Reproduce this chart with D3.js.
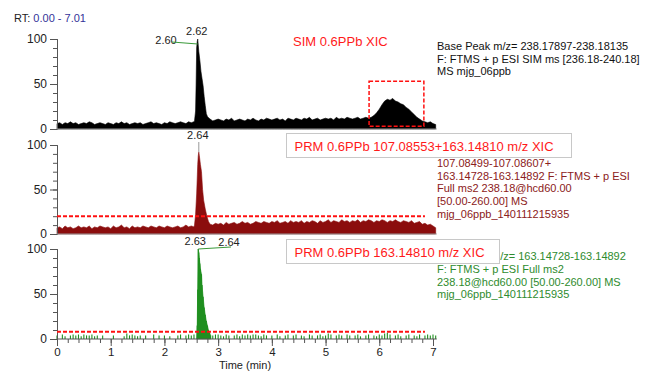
<!DOCTYPE html>
<html>
<head>
<meta charset="utf-8">
<title>XIC chromatograms</title>
<script src="https://d3js.org/d3.v7.min.js"></script>
<style>
  body { margin: 0; background: #fff; }
  text { font-family: "Liberation Sans", Arial, sans-serif; }
</style>
</head>
<body>
<div id="chart"></div>
<script>
// retention time grid step (min) of the baseline arrays
const step = 0.05;

// SIM 0.6PPb XIC, relative abundance, t = 0.00 .. 7.05
const simBase = [
  6,7,5,7,6,8,6,7,5,6, 7,6,8,7,5,6,7,6,5,7,
  6,5,7,6,8,6,7,5,6,7, 6,7,5,6,7,8,6,7,6,5,
  7,6,8,7,6,7,8,7,6,8, 7,8,9,10,12,11,10,11,9,10,
  11,10,9,11,10,12,9,10,11,10, 9,11,10,12,10,9,11,10,12,11,
  10,11,12,10,11,9,12,11,10,12, 11,10,12,11,13,10,11,12,10,11,
  12,11,12,10,13,11,12,11,13,12, 11,12,13,11,12,13,12,13,15,18,
  22,27,31,33,32,34,31,30,28,27, 24,22,19,16,13,11,9,8,7,8,
  6,5
];
const simPeakT = [2.56,2.58,2.59,2.60,2.61,2.62,2.63,2.64,2.66,2.68,2.70,2.72,2.74,2.76,2.78,2.80,2.83];
const simPeakV = [9,20,50,90,97,100,93,86,76,64,56,48,36,26,17,14,12];

// PRM 107.08553+163.14810 m/z XIC
const prm1Base = [
  7,8,6,9,7,8,6,7,9,7, 8,7,9,6,8,7,9,8,7,8,
  6,9,7,8,10,7,8,6,9,7, 8,7,9,8,7,9,8,7,9,8,
  7,9,8,7,8,9,7,8,10,8, 9,8,10,12,11,12,11,13,10,12,
  11,12,10,13,11,12,13,11,12,14, 12,13,11,12,14,13,12,14,13,12,
  14,13,15,12,13,14,12,15,13,14, 13,15,12,14,13,15,14,12,15,13,
  14,16,13,15,14,13,16,14,15,13, 15,14,16,13,15,14,16,15,13,15,
  14,16,15,13,15,14,16,14,13,15, 14,13,15,12,13,14,11,12,10,11,
  9,7
];
const prm1PeakT = [2.56,2.58,2.60,2.62,2.63,2.64,2.65,2.67,2.69,2.71,2.73,2.76,2.79,2.82,2.85];
const prm1PeakV = [10,22,45,78,88,92,88,78,70,50,38,28,20,14,11];

// PRM 163.14810 m/z XIC
const prm2Base = [
  4,0,5,3,0,4,5,4,5,3, 5,4,4,5,3,4,0,4,0,0,
  0,4,0,0,0,3,6,4,5,4, 3,4,0,4,0,0,5,0,4,0,
  4,0,3,0,0,4,5,0,4,5, 4,5,5,6,7,6,5,6,4,5,
  5,4,3,5,4,0,4,5,3,5, 4,5,4,5,5,4,3,5,4,0,
  4,0,5,3,0,4,5,0,4,5, 0,4,3,0,5,4,0,4,5,3,
  4,6,5,0,4,5,4,0,5,4, 0,4,5,3,0,4,5,0,4,3,
  5,4,6,7,5,0,4,5,3,0, 4,5,0,4,3,5,0,4,5,4,
  5,4
];
const prm2PeakT = [2.60,2.61,2.62,2.63,2.64,2.65,2.66,2.67,2.69,2.70,2.72,2.74,2.76,2.78,2.80,2.82,2.84,2.86];
const prm2PeakV = [0,15,55,100,96,90,84,78,72,60,47,35,27,20,15,10,7,4];

const xTicks = [0,1,2,3,4,5,6,7];
const yTicks = [0,50,100];

const W = 648, H = 372;
const svg = d3.select("#chart").append("svg")
  .attr("width", W).attr("height", H);

const x = d3.scaleLinear().domain([0, 7]).range([57, 433]);
const xEnd = x(7.07);

function merge(base, pt, pv) {
  let lo = pt[0], hi = pt[pt.length - 1];
  let pts = base.map((v, i) => [i * step, v]).filter(d => d[0] < lo || d[0] > hi);
  pt.forEach((t, i) => pts.push([t, pv[i]]));
  return pts.sort((a, b) => a[0] - b[0]);
}

const panels = [
  {top: 39, bottom: 129, data: merge(simBase, simPeakT, simPeakV), color: "#000", kind: "area"},
  {top: 145, bottom: 234, data: merge(prm1Base, prm1PeakT, prm1PeakV), color: "#8b0d0d", kind: "area"},
  {top: 249, bottom: 339, data: merge(prm2Base, prm2PeakT, prm2PeakV), color: "#1f8f1f", kind: "stick"}
];

panels.forEach((p, k) => {
  p.y = d3.scaleLinear().domain([0, 100]).range([p.bottom, p.top]);
  const g = svg.append("g");
  const area = d3.area().x(d => x(d[0])).y0(p.bottom).y1(d => p.y(d[1]));

  if (p.kind === "area") {
    g.append("path")
      .datum(p.data)
      .attr("fill", p.color)
      .attr("stroke", p.color)
      .attr("stroke-width", 0.6)
      .attr("d", area);
  } else {
    g.selectAll("line.stk")
      .data(p.data.filter(d => d[1] > 0))
      .join("line")
      .attr("x1", d => x(d[0])).attr("x2", d => x(d[0]))
      .attr("y1", p.bottom).attr("y2", d => p.y(d[1]))
      .attr("stroke", p.color).attr("stroke-width", 1.1);
    g.append("path")
      .datum(p.data.filter(d => d[0] >= 2.6 && d[0] <= 2.86))
      .attr("fill", p.color)
      .attr("stroke", p.color)
      .attr("stroke-width", 0.6)
      .attr("d", area);
  }

  // y axis: labelled major ticks and minor ticks every 10
  const ga = g.append("g").attr("transform", "translate(57,0)")
    .call(d3.axisLeft(p.y).tickValues(d3.range(0, 101, 10)).tickSize(4).tickFormat(""));
  const gb = g.append("g").attr("transform", "translate(57,0)")
    .call(d3.axisLeft(p.y).tickValues(yTicks).tickSize(7).tickPadding(3));
  [ga, gb].forEach(a => {
    a.selectAll("line").attr("stroke", "#555");
    a.select(".domain").attr("stroke", "#555");
  });
  gb.selectAll("text").attr("font-size", 12).attr("fill", "#222")
    .style("font-family", "'Liberation Sans', Arial, sans-serif");

  // baseline
  g.append("line")
    .attr("x1", 57).attr("x2", xEnd)
    .attr("y1", p.bottom).attr("y2", p.bottom)
    .attr("stroke", k === 2 ? "#555" : "#999").attr("stroke-width", 1);
});

// x axis on the bottom panel
const pb = panels[2];
const gx1 = svg.append("g").attr("transform", `translate(0,${pb.bottom})`)
  .call(d3.axisBottom(x).tickValues(d3.range(0, 7.01, 0.2)).tickSize(4).tickFormat(""));
const gx2 = svg.append("g").attr("transform", `translate(0,${pb.bottom})`)
  .call(d3.axisBottom(x).tickValues(xTicks).tickSize(7).tickPadding(2).tickFormat(d3.format("d")));
[gx1, gx2].forEach(a => {
  a.selectAll("line").attr("stroke", "#555");
  a.select(".domain").remove();
});
gx2.selectAll("text").attr("font-size", 11.5).attr("fill", "#222")
  .style("font-family", "'Liberation Sans', Arial, sans-serif");

svg.append("text").attr("x", 245).attr("y", 369.3).attr("text-anchor", "middle")
  .attr("font-size", 11).attr("fill", "#222").text("Time (min)");

// RT range
const rt = svg.append("text").attr("x", 14).attr("y", 22).attr("font-size", 11).attr("fill", "#222");
rt.append("tspan").text("RT: ");
rt.append("tspan").attr("fill", "#333399").text("0.00 - 7.01");

// dashed threshold lines
[[panels[1], 20], [panels[2], 8]].forEach(([p, v]) => {
  svg.append("line")
    .attr("x1", 57).attr("x2", x(6.85))
    .attr("y1", p.y(v)).attr("y2", p.y(v))
    .attr("stroke", "#ff1010").attr("stroke-width", 2)
    .attr("stroke-dasharray", "4,2");
});

// dashed box around the hump in the SIM trace
svg.append("rect")
  .attr("x", x(5.81)).attr("y", panels[0].y(53))
  .attr("width", x(6.83) - x(5.81)).attr("height", panels[0].y(3) - panels[0].y(53))
  .attr("fill", "none").attr("stroke", "#ff1010").attr("stroke-width", 1.5)
  .attr("stroke-dasharray", "4,2");

// peak labels
function label(px, py, s) {
  svg.append("text").attr("x", px).attr("y", py).attr("text-anchor", "middle")
    .attr("font-size", 11).attr("fill", "#222").text(s);
}
const p0 = panels[0], p1 = panels[1], p2 = panels[2];
label(x(2.62) - 1, p0.y(100) - 4, "2.62");
label(166, p0.y(100) + 5, "2.60");
svg.append("line").attr("x1", 172).attr("y1", p0.y(100) + 3)
  .attr("x2", x(2.62)).attr("y2", p0.y(100) + 5)
  .attr("stroke", "#3a9a3a").attr("stroke-width", 1);

label(x(2.64) - 1, p1.y(100) - 6, "2.64");
svg.append("line").attr("x1", x(2.64)).attr("x2", x(2.64))
  .attr("y1", p1.y(100) - 3).attr("y2", p1.y(92))
  .attr("stroke", "#999").attr("stroke-width", 1);

label(x(2.63) - 3, p2.y(100) - 4, "2.63");
label(229, p2.y(100) - 3, "2.64");
svg.append("line").attr("x1", x(2.63)).attr("y1", p2.y(100))
  .attr("x2", 231).attr("y2", p2.y(100) - 2)
  .attr("stroke", "#3a9a3a").attr("stroke-width", 1);

// trace descriptions on the right
function lines(x0, y0, dy, arr, color) {
  arr.forEach((s, i) => {
    svg.append("text").attr("x", x0).attr("y", y0 + i * dy)
      .attr("font-size", 11).attr("fill", color).text(s);
  });
}
lines(437, 50, 12.5, ["Base Peak m/z= 238.17897-238.18135",
  "F: FTMS + p ESI SIM ms [236.18-240.18]", " MS mjg_06ppb"], "#111");
lines(437, 167, 12.7, ["107.08499-107.08607+", "163.14728-163.14892 F: FTMS + p ESI",
  "Full ms2 238.18@hcd60.00", "[50.00-260.00]  MS", "mjg_06ppb_140111215935"], "#8b2020");
// first green line sits partly under the title box
lines(491, 260, 12.7, ["m/z= 163.14728-163.14892"], "#2e8b2e");
lines(437, 273, 12.7, ["F: FTMS + p ESI Full ms2",
  "238.18@hcd60.00 [50.00-260.00]  MS", "mjg_06ppb_140111215935"], "#2e8b2e");

// titles
svg.append("text").attr("x", 293).attr("y", 46).attr("font-size", 13)
  .attr("fill", "#ff1a1a").text("SIM 0.6PPb XIC");

function titleBox(bx, by, bw, bh, s) {
  svg.append("rect").attr("x", bx).attr("y", by).attr("width", bw).attr("height", bh)
    .attr("fill", "#fff").attr("stroke", "#c8c8c8").attr("stroke-width", 1);
  svg.append("text").attr("x", bx + 8).attr("y", by + bh / 2 + 5).attr("font-size", 13)
    .attr("fill", "#ff1a1a").text(s);
}
titleBox(286.5, 133.5, 285, 24, "PRM 0.6PPb 107.08553+163.14810 m/z  XIC");
titleBox(286.5, 239.5, 213, 24, "PRM 0.6PPb 163.14810 m/z  XIC");
</script>
</body>
</html>
